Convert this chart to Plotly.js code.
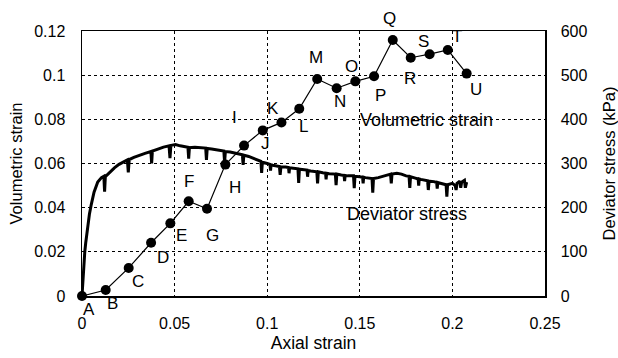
<!DOCTYPE html>
<html>
<head>
<meta charset="utf-8">
<script src="https://cdn.plot.ly/plotly-3.0.1.min.js"></script>
<style>html,body{margin:0;padding:0;background:#fff;}#chart{width:618px;height:358px;}</style>
</head>
<body>
<div id="chart"></div>
<script>
// Volumetric strain test points
const pointLabels = ["A","B","C","D","E","F","G","H","I","J","K","L","M","N","O","P","Q","R","S","T","U"];
const volAxial = [0, 0.0128, 0.0252, 0.0373, 0.0477, 0.0576, 0.0675, 0.0774, 0.0875, 0.0976, 0.1077, 0.1173, 0.1270, 0.1375, 0.1476, 0.1577, 0.1678, 0.1775, 0.1877, 0.1975, 0.2077];
const volStrain = [0, 0.0027, 0.0127, 0.0241, 0.0329, 0.0429, 0.0395, 0.0595, 0.0681, 0.0750, 0.0786, 0.0848, 0.0983, 0.0941, 0.0972, 0.0995, 0.1159, 0.1079, 0.1095, 0.1114, 0.1007];

// Deviator stress record (kPa) vs axial strain
const devAxial = [0,0.0005,0.001,0.0015,0.002,0.003,0.004,0.005,0.0065,0.0085,0.0105,0.0118,0.0122,0.0126,0.015,0.0175,0.02,0.0225,0.0245,0.025,0.0255,0.028,0.031,0.034,0.0372,0.0376,0.038,0.041,0.044,0.047,0.0475,0.048,0.0505,0.053,0.0555,0.0572,0.0576,0.058,0.061,0.0645,0.0668,0.0672,0.0676,0.07,0.0735,0.0766,0.077,0.0774,0.08,0.0835,0.0866,0.087,0.0874,0.09,0.0935,0.0966,0.097,0.0974,0.1,0.1015,0.1018,0.1021,0.103,0.1066,0.107,0.1074,0.11,0.1115,0.1118,0.1121,0.113,0.1166,0.117,0.1174,0.12,0.1215,0.1218,0.1221,0.1235,0.1268,0.1272,0.1276,0.13,0.1315,0.1318,0.1321,0.1335,0.1368,0.1372,0.1376,0.14,0.1415,0.1418,0.1421,0.1435,0.1466,0.147,0.1474,0.15,0.1515,0.1518,0.1521,0.153,0.1566,0.157,0.1574,0.16,0.163,0.1666,0.167,0.1674,0.17,0.1725,0.175,0.1766,0.177,0.1774,0.18,0.1815,0.1818,0.1821,0.183,0.1866,0.187,0.1874,0.19,0.1915,0.1918,0.1921,0.193,0.1966,0.197,0.1974,0.2,0.2015,0.202,0.2025,0.204,0.2045,0.205,0.2065,0.207,0.2077];
const devStress = [0,40,75,100,120,155,185,207,235,258,268,271,236,270,280,290,298,304,308,280,309,314,319,323,327,300,328,333,337,340,312,341,343,340,338,337,311,336,337,336,335,308,334,333,330,328,302,327,326,323,320,297,319,316,310,305,279,303,300,298,284,297,296,293,274,292,292,291,278,290,290,288,256,287,286,285,270,284,283,281,255,281,279,278,264,278,277,276,251,276,274,273,260,273,272,272,244,271,270,269,255,269,268,266,234,266,268,272,276,255,276,278,276,272,271,245,270,267,265,250,265,264,261,240,260,259,257,243,257,256,252,225,252,255,250,240,255,260,245,258,262,245,258];

const xTicks = [0, 0.05, 0.1, 0.15, 0.2, 0.25];

// label offsets in pixels (layout only)
const labelShift = [[7,-13],[7,-13],[9,-14],[12,-15],[11,-12],[0,20],[5,-27],[10,-23],[-10,28],[3,-13],[-8,14],[4,-18],[-1,21],[3,-13],[-4,15],[6,-19],[-3,22],[-1,-21],[-6,13],[9,13],[9,-16]];

const FAM = 'Liberation Sans, Arial, sans-serif';
const annotations = pointLabels.map((t, i) => ({
  x: volAxial[i], y: volStrain[i], xref: 'x', yref: 'y', text: t, showarrow: false,
  xshift: labelShift[i][0], yshift: labelShift[i][1],
  font: {family: FAM, size: 17, color: '#000'}
}));
annotations.push({x: 0.186, y: 0.0797, xref: 'x', yref: 'y', text: 'Volumetric strain', showarrow: false,
  font: {family: FAM, size: 18, color: '#000'}});
annotations.push({x: 0.1755, y: 0.0372, xref: 'x', yref: 'y', text: 'Deviator stress', showarrow: false,
  font: {family: FAM, size: 18, color: '#000'}});

const traces = [
  {x: devAxial, y: devStress, yaxis: 'y2', type: 'scatter', mode: 'lines',
   line: {color: '#000', width: 3}, hoverinfo: 'skip', cliponaxis: false},
  {x: volAxial, y: volStrain, type: 'scatter', mode: 'lines+markers',
   line: {color: '#000', width: 1.2}, marker: {color: '#000', size: 10}, cliponaxis: false}
];

const layout = {
  width: 618, height: 358,
  margin: {l: 82, r: 73, t: 31, b: 62},
  paper_bgcolor: '#fff', plot_bgcolor: '#fff',
  showlegend: false,
  font: {family: FAM, size: 16, color: '#000'},
  xaxis: {range: [0, 0.25], tickvals: xTicks, ticktext: xTicks.map(String),
    showgrid: true, gridcolor: '#000', griddash: 'dot', gridwidth: 1,
    zeroline: false, showline: true, linecolor: '#000', linewidth: 1.5, mirror: true,
    ticks: '', tickfont: {size: 16}, ticklabelstandoff: 12,
    title: {text: 'Axial strain', font: {size: 17.5}, standoff: 6}},
  yaxis: {range: [0, 0.12], dtick: 0.02, tick0: 0,
    showgrid: true, gridcolor: '#000', griddash: 'dot', gridwidth: 1,
    zeroline: false, showline: true, linecolor: '#000', linewidth: 1.5, mirror: true,
    ticks: '', tickfont: {size: 16}, ticklabelstandoff: 12,
    title: {text: 'Volumetric strain', font: {size: 16.5}, standoff: 7}},
  yaxis2: {range: [0, 600], dtick: 100, tick0: 0, overlaying: 'y', side: 'right',
    showgrid: false, zeroline: false, showline: true, linecolor: '#000', linewidth: 1.5,
    ticks: '', tickfont: {size: 16}, ticklabelstandoff: 11,
    title: {text: 'Deviator stress (kPa)', font: {size: 16.5}, standoff: 17}},
  annotations: annotations
};

Plotly.newPlot('chart', traces, layout, {displayModeBar: false, staticPlot: true});
</script>
</body>
</html>
